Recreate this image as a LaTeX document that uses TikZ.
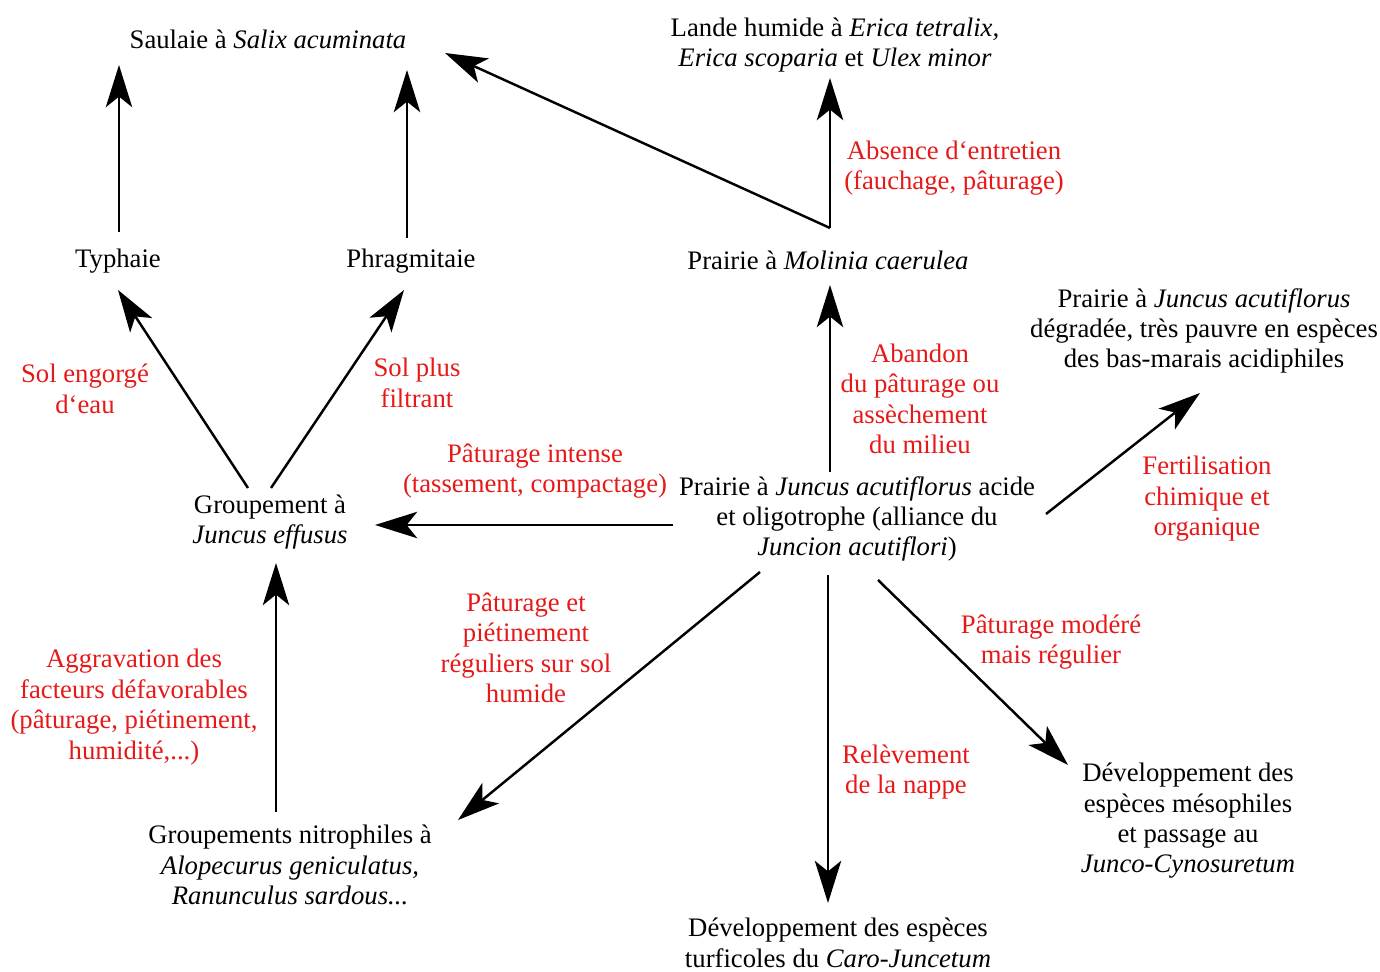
\documentclass[tikz,border=0pt]{standalone}
\usepackage{fontspec}
\setmainfont{Liberation Serif}
\usetikzlibrary{calc}
\usetikzlibrary{arrows.meta}

\definecolor{merah}{RGB}{230,25,25}

\tikzset{
    teks/.style={align=center, inner sep=2pt, font=\fontsize{15.2}{17.3}\selectfont},
    ket/.style={teks, text=merah},
    panah/.style={line width=1.4pt, -{Stealth[length=24pt, width=15pt, inset=6pt]}}
}

\begin{document}
\begin{tikzpicture}[x=0.02cm, y=-0.02cm]
    \useasboundingbox (0,0) rectangle (1380,972);
    % node-node vegetasi
    \node[teks] (saulaie) at (268,39) {Saulaie à \textit{Salix acuminata}};
    \node[teks] (lande) at (835,45) {Lande humide à \textit{Erica tetralix,}\\\textit{Erica scoparia} et \textit{Ulex minor}};
    \node[teks] (typha) at (118,261) {Typhaie};
    \node[teks] (phrag) at (411,261) {Phragmitaie};
    \node[teks] (molinia) at (828,260) {Prairie à \textit{Molinia caerulea}};
    \node[teks] (degrade) at (1204,331) {Prairie à \textit{Juncus acutiflorus}\\dégradée, très pauvre en espèces\\des bas-marais acidiphiles};
    \node[teks] (centre) at (857,519) {Prairie à \textit{Juncus acutiflorus} acide\\et oligotrophe (alliance du\\\textit{Juncion acutiflori})};
    \node[teks] (effusus) at (270,522) {Groupement à\\\textit{Juncus effusus}};
    \node[teks] (nitro) at (290,865) {Groupements nitrophiles à\\\textit{Alopecurus geniculatus,}\\\textit{Ranunculus sardous...}};
    \node[teks] (caro) at (838,943) {Développement des espèces\\turficoles du \textit{Caro-Juncetum}};
    \node[teks] (junco) at (1188,821) {Développement des\\espèces mésophiles\\et passage au\\\textit{Junco-Cynosuretum}};

    % keterangan (merah)
    \node[ket] (k1) at (954,168) {Absence d‘entretien\\(fauchage, pâturage)};
    \node[ket] (k2) at (920,399) {Abandon\\du pâturage ou\\assèchement\\du milieu};
    \node[ket] (k3) at (85,389) {Sol engorgé\\d‘eau};
    \node[ket] (k4) at (417,383) {Sol plus\\filtrant};
    \node[ket] (k5) at (535,471) {Pâturage intense\\(tassement, compactage)};
    \node[ket] (k6) at (1207,499) {Fertilisation\\chimique et\\organique};
    \node[ket] (k7) at (526,648) {Pâturage et\\piétinement\\réguliers sur sol\\humide};
    \node[ket] (k8) at (134,707) {Aggravation des\\facteurs défavorables\\(pâturage, piétinement,\\humidité,...)};
    \node[ket] (k9) at (1051,642) {Pâturage modéré\\mais régulier};
    \node[ket] (k10) at (906,772) {Relèvement\\de la nappe};

    % panah-panah
    \draw[panah] ($(typha)+(1,-29)$) -- ($(saulaie)+(-149,26)$);
    \draw[panah] ($(phrag)+(-4,-23)$) -- ($(saulaie)+(139,31)$);
    \draw[panah] ($(molinia)+(2,-32)$) -- ($(saulaie)+(177,14)$);
    \draw[panah] ($(molinia)+(2,-32)$) -- ($(lande)+(-5,33)$);
    \draw[panah] ($(centre)+(-27,-47)$) -- ($(molinia)+(2,25)$);
    \draw[panah] ($(effusus)+(-22,-34)$) -- ($(typha)+(0,29)$);
    \draw[panah] ($(effusus)+(1,-34)$) -- ($(phrag)+(-7,29)$);
    \draw[panah] ($(centre)+(-184,6)$) -- ($(effusus)+(105,3)$);
    \draw[panah] ($(nitro)+(-14,-53)$) -- ($(effusus)+(6,41)$);
    \draw[panah] ($(centre)+(-97,53)$) -- ($(nitro)+(168,-45)$);
    \draw[panah] ($(centre)+(-29,56)$) -- ($(caro)+(-10,-40)$);
    \draw[panah] ($(centre)+(21,61)$) -- ($(junco)+(-120,-56)$);
    \draw[panah] ($(centre)+(189,-5)$) -- ($(degrade)+(-4,62)$);
\end{tikzpicture}
\end{document}
